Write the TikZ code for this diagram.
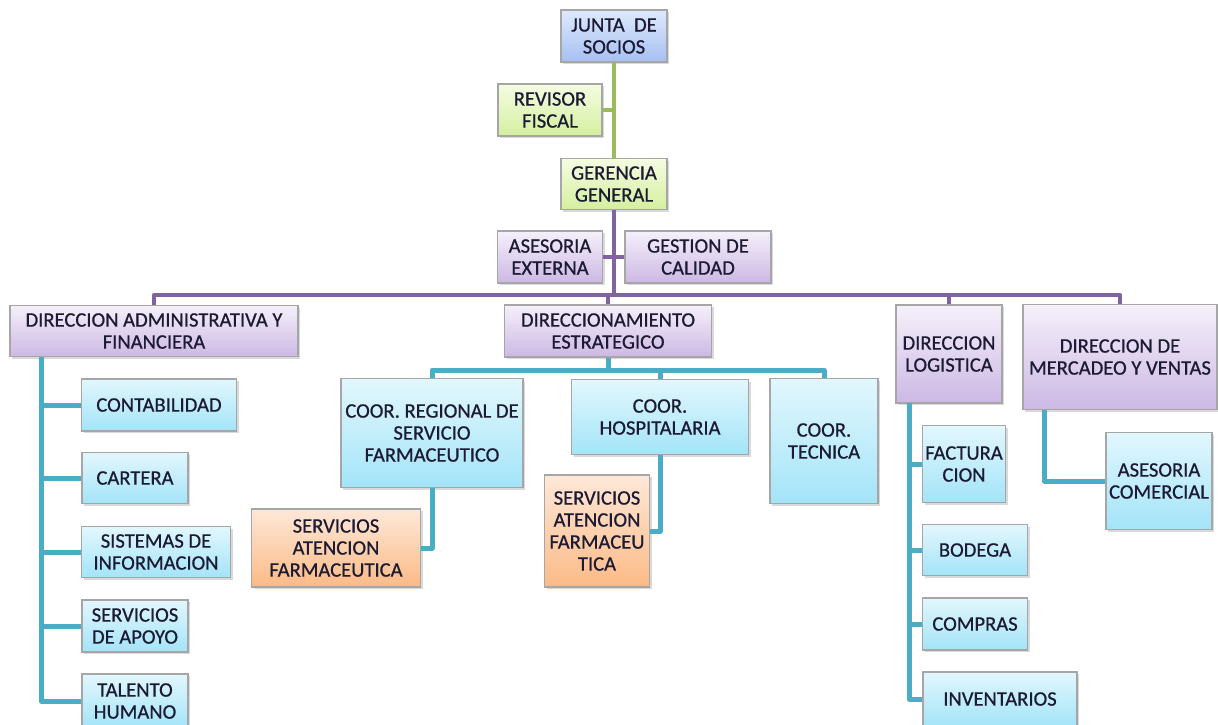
\documentclass[tikz,border=0pt]{standalone}
\usepackage{fontspec}
\setmainfont{Carlito}[UprightFeatures={FakeBold=0.7}]
\usetikzlibrary{shadows}

\definecolor{linegreen}{HTML}{9BBB59}
\definecolor{linepurple}{HTML}{8064A2}
\definecolor{lineteal}{HTML}{4BACC6}
\definecolor{boxtext}{HTML}{1C1B33}

\begin{document}
\begin{tikzpicture}[x=0.5pt, y=-0.5pt,
		box/.style={draw=gray!70, line width=0.6pt, align=center, inner sep=1pt,
			font=\fontsize{10.3}{11}\selectfont, text=boxtext,
			drop shadow={opacity=0.3, shadow xshift=1.2pt, shadow yshift=-1.2pt}},
		bluebox/.style={box, top color={rgb,255:red,222;green,233;blue,252}, bottom color={rgb,255:red,166;green,192;blue,242}},
		greenbox/.style={box, top color={rgb,255:red,245;green,252;blue,226}, bottom color={rgb,255:red,212;green,239;blue,158}},
		purplebox/.style={box, top color={rgb,255:red,245;green,240;blue,250}, bottom color={rgb,255:red,204;green,184;blue,228}},
		cyanbox/.style={box, top color={rgb,255:red,226;green,247;blue,253}, bottom color={rgb,255:red,163;green,228;blue,248}},
		orangebox/.style={box, top color={rgb,255:red,254;green,232;blue,216}, bottom color={rgb,255:red,251;green,186;blue,134}},
		lineG/.style={draw=linegreen, line width=2pt},
		lineP/.style={draw=linepurple, line width=2.2pt, line join=round},
		lineT/.style={draw=lineteal, line width=2.5pt, line join=round}]
	\useasboundingbox (0,0) rectangle (1218,724);

	% top of the chart
	\node[bluebox, minimum width=53pt, minimum height=26pt] (junta) at (614,36) {JUNTA \ DE\\SOCIOS};
	\node[greenbox, minimum width=52pt, minimum height=26pt] (revisor) at (550,110) {REVISOR\\FISCAL};
	\node[greenbox, minimum width=53pt, minimum height=25.5pt] (gerencia) at (614,184) {GERENCIA\\GENERAL};
	\node[purplebox, minimum width=52.5pt, minimum height=26pt] (asesoria) at (550,257) {ASESORIA\\EXTERNA};
	\node[purplebox, minimum width=73pt, minimum height=26pt] (gestion) at (698,257) {GESTION DE\\CALIDAD};

	% direcciones
	\node[purplebox, minimum width=144pt, minimum height=25.5pt] (daf) at (154,331) {DIRECCION ADMINISTRATIVA Y\\FINANCIERA};
	\node[purplebox, minimum width=103.5pt, minimum height=26pt] (est) at (608,331) {DIRECCIONAMIENTO\\ESTRATEGICO};
	\node[purplebox, minimum width=53pt, minimum height=49pt] (log) at (949,354) {DIRECCION\\LOGISTICA};
	\node[purplebox, minimum width=97pt, minimum height=52.5pt] (mv) at (1120,357) {DIRECCION DE\\MERCADEO Y VENTAS};

	% administrativa y financiera
	\node[cyanbox, minimum width=77.5pt, minimum height=26pt] (contab) at (159,405) {CONTABILIDAD};
	\node[cyanbox, minimum width=53pt, minimum height=25.5pt] (cartera) at (135,478) {CARTERA};
	\node[cyanbox, minimum width=74.5pt, minimum height=25.5pt] (sistemas) at (156,552) {SISTEMAS DE\\INFORMACION};
	\node[cyanbox, minimum width=53pt, minimum height=26pt] (apoyo) at (135,626) {SERVICIOS\\DE APOYO};
	\node[cyanbox, minimum width=53pt, minimum height=27pt] (talento) at (135,701) {TALENTO\\HUMANO};

	% direccionamiento estrategico
	\node[cyanbox, minimum width=91pt, minimum height=54.5pt] (regional) at (432,433) {COOR. REGIONAL DE\\SERVICIO\\FARMACEUTICO};
	\node[cyanbox, minimum width=88.5pt, minimum height=37.5pt] (hosp) at (660,417) {COOR.\\HOSPITALARIA};
	\node[cyanbox, minimum width=54pt, minimum height=62.5pt] (tecnica) at (824,441) {COOR.\\TECNICA};
	\node[orangebox, minimum width=84.5pt, minimum height=39pt] (saf1) at (336,548) {SERVICIOS\\ATENCION\\FARMACEUTICA};
	\node[orangebox, minimum width=52.5pt, minimum height=56pt] (saf2) at (597,531) {SERVICIOS\\ATENCION\\FARMACEU\\TICA};

	% logistica
	\node[cyanbox, minimum width=41.5pt, minimum height=38.5pt] (fact) at (964,464) {FACTURA\\CION};
	\node[cyanbox, minimum width=52.5pt, minimum height=25.5pt] (bodega) at (975,550) {BODEGA};
	\node[cyanbox, minimum width=52.5pt, minimum height=26pt] (compras) at (975,624) {COMPRAS};
	\node[cyanbox, minimum width=77pt, minimum height=27pt] (invent) at (1000,699) {INVENTARIOS};

	% mercadeo
	\node[cyanbox, minimum width=53pt, minimum height=48.5pt] (ascom) at (1159,481) {ASESORIA\\COMERCIAL};

	% connectors
	\coordinate (bus) at (614,295);
	\coordinate (midbus) at (609,370);
	\coordinate (dafL) at (41,357);
	\coordinate (logL) at (909,403);
	\coordinate (mvL) at (1044,410);

	\draw[lineG] (junta.south) -- (gerencia.north);
	\draw[lineG] (revisor.east) -- (revisor.east -| junta.south);

	\draw[lineP] (gerencia.south) -- (bus);
	\draw[lineP] (asesoria.east) -- (gestion.west);
	\draw[lineP] (daf.north) |- (bus) -| (mv.north);
	\draw[lineP] (est.north) -- (est.north |- bus);
	\draw[lineP] (log.north) -- (log.north |- bus);

	\foreach \n in {contab,cartera,sistemas,apoyo,talento}
		\draw[lineT] (dafL) |- (\n.west);

	\draw[lineT] (est.south) -- (est.south |- midbus);
	\draw[lineT] (regional.north) |- (midbus) -| (tecnica.north);
	\draw[lineT] (hosp.north) -- (hosp.north |- midbus);
	\draw[lineT] (regional.south) |- (saf1.east);
	\draw[lineT] (hosp.south) |- (saf2.east);

	\foreach \n in {fact,bodega,compras,invent}
		\draw[lineT] (logL) |- (\n.west);
	\draw[lineT] (mvL) |- (ascom.west);
\end{tikzpicture}
\end{document}
